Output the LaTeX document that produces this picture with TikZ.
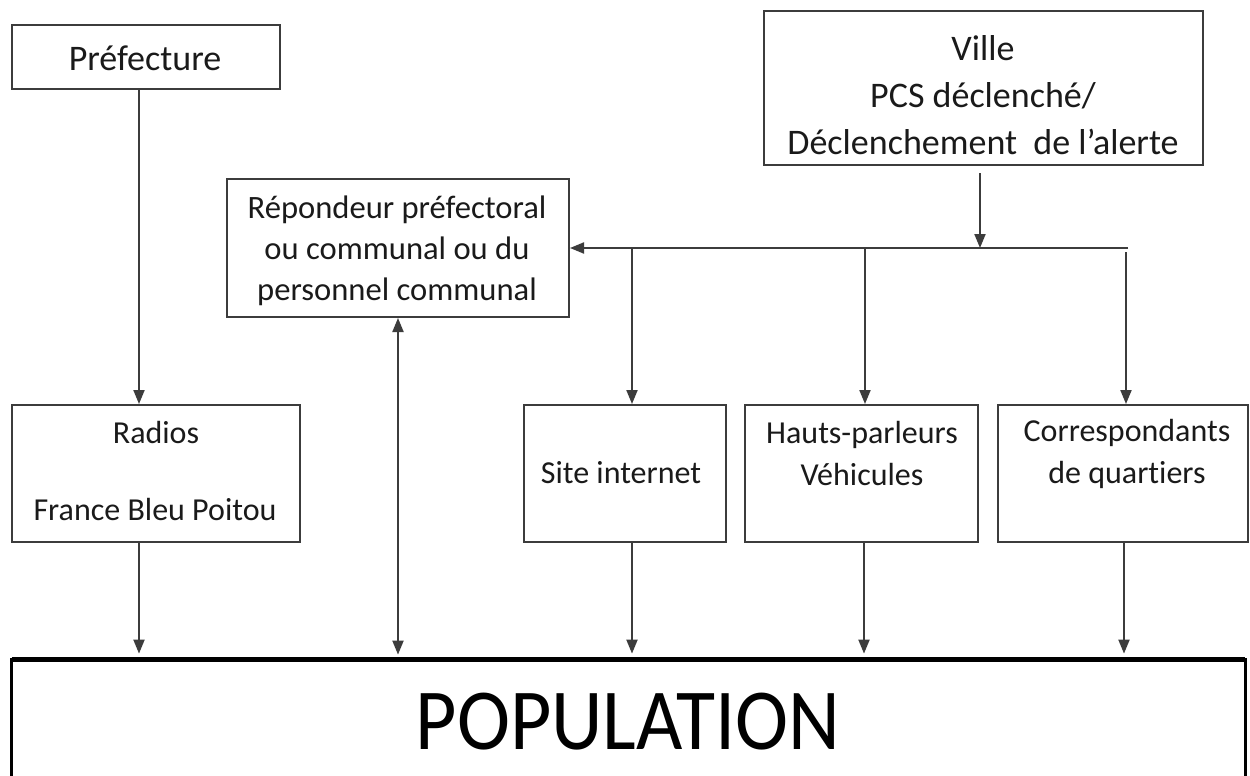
\documentclass[tikz,border=0pt]{standalone}
\usepackage{fontspec}
\setmainfont{Carlito}[Ligatures=NoCommon]
\usetikzlibrary{arrows.meta}
\definecolor{linegray}{HTML}{3C3C3C}
\definecolor{txtgray}{HTML}{1A1A1A}

\begin{document}
\begin{tikzpicture}[x=0.5pt,y=-0.5pt,
  box/.style={draw=linegray, line width=1pt, rectangle, inner sep=0pt, fill=white},
  bigtxt/.style={text=txtgray, align=center, inner sep=0pt, font=\fontsize{18pt}{23.5pt}\selectfont},
  midtxt/.style={text=txtgray, align=center, inner sep=0pt, font=\fontsize{16pt}{21pt}\selectfont},
  arr/.style={-{Triangle[length=7pt,width=5.5pt]}, draw=linegray, line width=1pt},
  toPop/.style={arr, shorten >=3pt},
  dblarr/.style={{Triangle[length=7pt,width=5.5pt]}-{Triangle[length=7pt,width=5.5pt]}, draw=linegray, line width=1pt, shorten >=2.5pt}]

% page frame
\useasboundingbox (0,0) rectangle (1250,776);
\fill[white] (0,0) rectangle (1250,776);

% boxes
\node[box, minimum width=134pt, minimum height=32pt] (pref) at (146,57) {};
\node[box, minimum width=219.5pt, minimum height=77pt] (ville) at (983.5,88) {};
\node[box, minimum width=171pt, minimum height=69pt] (rep) at (398,248) {};
\node[box, minimum width=144pt, minimum height=68.5pt] (radios) at (156,473.5) {};
\node[box, minimum width=101pt, minimum height=68.5pt] (site) at (625,473.5) {};
\node[box, minimum width=116.5pt, minimum height=68.5pt] (hp) at (861.5,473.5) {};
\node[box, minimum width=125pt, minimum height=68.5pt] (corr) at (1123,473.5) {};

% population box, running past the lower edge
\node[inner sep=0pt, minimum width=616.5pt, minimum height=70pt] (pop) at (628.5,730) {};
\draw[black, line width=1.6pt] (pop.south west) -- (pop.north west) -- (pop.north east) -- (pop.south east);
\draw[black, line width=2.4pt] (pop.north west) -- (pop.north east);

% texts
\node[bigtxt] (prefT) at (145,58) {Préfecture};
\node[bigtxt] (villeT) at (983,95) {Ville\\PCS déclenché/\\Déclenchement~ de l’alerte};
\node[midtxt, font=\fontsize{16.3pt}{20.5pt}\selectfont] (repT) at (397,251) {Répondeur préfectoral\\ou communal ou du\\personnel communal};
\node[midtxt] (radiosT) at (156,433) {Radios};
\node[midtxt] (franceT) at (155,510) {France Bleu Poitou};
\node[midtxt] (siteT) at (621,473) {Site internet};
\node[midtxt] (hpT) at (862,454) {Hauts-parleurs\\Véhicules};
\node[midtxt] (corrT) at (1127,454) {Correspondants\\de quartiers};
\node[text=black, inner sep=0pt] (popT) at (628,722)
  {\scalebox{0.92}[1]{\fontsize{43.5pt}{50pt}\selectfont POPULATION}};

% distribution line from the town
\coordinate (busR) at (1128,248);
\coordinate (x1) at (632,0);
\coordinate (x2) at (865,0);
\coordinate (x3) at (1126,0);
\draw[arr] (busR) -- (rep.east);
\draw[arr] ([xshift=-1.75pt,yshift=-3.5pt]ville.south) -- ([xshift=-1.75pt]ville.south |- rep.east);
\draw[arr] (x1 |- busR) -- (x1 |- site.north);
\draw[arr] (x2 |- busR) -- (x2 |- hp.north);
\draw[arr] ([yshift=-2pt]x3 |- busR) -- (x3 |- corr.north);

% prefecture to radios
\draw[arr] ([xshift=-3.5pt]pref.south) -- ([xshift=-3.5pt]pref.south |- radios.north);

% channels to the population
\draw[toPop] ([xshift=-8.5pt]radios.south) -- ([xshift=-8.5pt]radios.south |- pop.north);
\draw[dblarr] (rep.south) -- (rep.south |- pop.north);
\draw[toPop] ([xshift=3.5pt]site.south) -- ([xshift=3.5pt]site.south |- pop.north);
\draw[toPop] ([xshift=1.25pt]hp.south) -- ([xshift=1.25pt]hp.south |- pop.north);
\draw[toPop] ([xshift=0.5pt]corr.south) -- ([xshift=0.5pt]corr.south |- pop.north);
\end{tikzpicture}
\end{document}
